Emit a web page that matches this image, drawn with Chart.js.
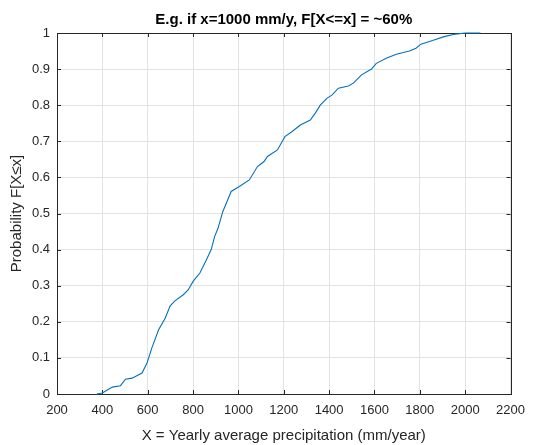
<!DOCTYPE html>
<html>
<head>
<meta charset="utf-8">
<script src="https://cdn.jsdelivr.net/npm/chart.js@4/dist/chart.umd.min.js"></script>
<style>
  html, body { margin: 0; padding: 0; background: #fff; }
  #wrap { width: 534px; height: 445px; }
</style>
</head>
<body>
<div id="wrap"><canvas id="cdfChart" width="534" height="445"></canvas></div>
<script>
// precipitation (mm/year) and empirical cumulative probability
const precip = [375, 400, 444, 480, 502, 531, 575, 597, 618, 648, 677, 699, 720, 757, 779, 800,
    830, 859, 880, 895, 910, 931, 953, 968, 1004, 1048, 1084, 1113, 1128, 1172, 1205, 1237,
    1273, 1317, 1339, 1361, 1390, 1412, 1441, 1485, 1507, 1543, 1587, 1608, 1652, 1696,
    1754, 1783, 1805, 1856, 1907, 1958, 2001, 2067];
const prob = [0, 0.003, 0.019, 0.023, 0.041, 0.044, 0.058, 0.086, 0.127, 0.178, 0.21, 0.244,
    0.258, 0.275, 0.289, 0.312, 0.335, 0.372, 0.40, 0.436, 0.459, 0.505, 0.538, 0.561, 0.575,
    0.593, 0.63, 0.644, 0.658, 0.676, 0.713, 0.727, 0.745, 0.759, 0.778, 0.80, 0.819, 0.828,
    0.847, 0.853, 0.861, 0.884, 0.90, 0.916, 0.93, 0.941, 0.95, 0.958, 0.969, 0.979, 0.99,
    0.997, 1.0, 1.0];
const xTicks = [200, 400, 600, 800, 1000, 1200, 1400, 1600, 1800, 2000, 2200];
const yTicks = [0, 0.1, 0.2, 0.3, 0.4, 0.5, 0.6, 0.7, 0.8, 0.9, 1];
const chartTitle = "E.g. if x=1000 mm/y, F[X<=x] = ~60%";

const axisColor = "#262626";
const fontFam = "Arial, 'Liberation Sans', Helvetica, sans-serif";

// box around the axes with inward ticks on all four sides, title centred over the axes
const boxTicks = {
    id: "boxTicks",
    beforeDatasetsDraw(chart) {
        const { ctx, chartArea: a, scales } = chart;
        const len = 4;
        ctx.save();
        ctx.strokeStyle = axisColor;
        ctx.lineWidth = 1;
        ctx.beginPath();
        xTicks.forEach(v => {
            const px = Math.round(scales.x.getPixelForValue(v)) + 0.5;
            ctx.moveTo(px, a.bottom); ctx.lineTo(px, a.bottom - len);
            ctx.moveTo(px, a.top); ctx.lineTo(px, a.top + len);
        });
        yTicks.forEach(v => {
            const py = Math.round(scales.y.getPixelForValue(v)) + 0.5;
            ctx.moveTo(a.left, py); ctx.lineTo(a.left + len, py);
            ctx.moveTo(a.right, py); ctx.lineTo(a.right - len, py);
        });
        ctx.stroke();
        ctx.strokeRect(Math.round(a.left) + 0.5, Math.round(a.top) + 0.5,
            Math.round(a.right - a.left), Math.round(a.bottom - a.top));

        ctx.fillStyle = "#000";
        ctx.font = "bold 15px " + fontFam;
        ctx.textAlign = "center";
        ctx.textBaseline = "middle";
        ctx.fillText(chartTitle, (a.left + a.right) / 2, 20);
        ctx.restore();
    }
};

const ctx = document.getElementById("cdfChart").getContext("2d");
new Chart(ctx, {
    type: "scatter",
    data: {
        datasets: [{
            data: precip.map((x, i) => ({ x: x, y: prob[i] })),
            showLine: true,
            borderColor: "#0072BD",
            borderWidth: 1.1,
            pointRadius: 0,
            tension: 0,
            clip: 2
        }]
    },
    options: {
        responsive: false,
        animation: false,
        layout: { padding: { left: 0, right: 18, top: 33, bottom: 0 } },
        plugins: {
            legend: { display: false },
            tooltip: { enabled: false },
            title: { display: false }
        },
        scales: {
            x: {
                type: "linear",
                min: 200,
                max: 2200,
                afterBuildTicks: s => { s.ticks = xTicks.map(v => ({ value: v })); },
                afterFit: s => { s.height = 51; },
                ticks: {
                    color: axisColor,
                    font: { family: fontFam, size: 13 },
                    padding: 9,
                    maxRotation: 0,
                    callback: v => String(v)
                },
                grid: { color: "#e3e3e3", drawTicks: false },
                border: { display: false },
                title: {
                    display: true,
                    text: "X = Yearly average precipitation (mm/year)",
                    color: axisColor,
                    font: { family: fontFam, size: 15 },
                    padding: { top: 2, bottom: 0 }
                }
            },
            y: {
                type: "linear",
                min: 0,
                max: 1,
                afterBuildTicks: s => { s.ticks = yTicks.map(v => ({ value: v })); },
                afterFit: s => { s.width = 57; },
                ticks: {
                    color: axisColor,
                    font: { family: fontFam, size: 13 },
                    padding: 7,
                    callback: v => String(v)
                },
                grid: { color: "#e3e3e3", drawTicks: false },
                border: { display: false },
                title: {
                    display: true,
                    text: "Probability F[X≤x]",
                    color: axisColor,
                    font: { family: fontFam, size: 15 },
                    padding: { top: 8, bottom: 0 }
                }
            }
        }
    },
    plugins: [boxTicks]
});
</script>
</body>
</html>
